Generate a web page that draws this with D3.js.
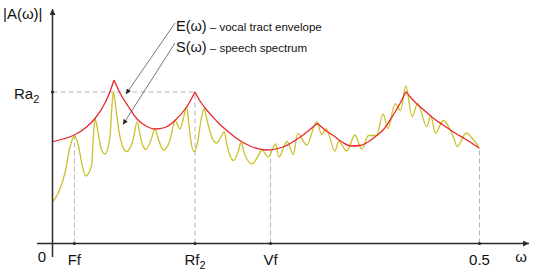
<!DOCTYPE html>
<html>
<head>
<meta charset="utf-8">
<script src="https://cdn.jsdelivr.net/npm/d3@7"></script>
<style>
  body { margin: 0; background: #fff; }
  svg { display: block; font-family: Arial, "Liberation Sans", sans-serif; }
</style>
</head>
<body>
<div class="chart"></div>
<script>
// speech spectrum S(w) (w normalised, 0.5 = Nyquist)
const spectrumW = [0, 0.0068, 0.0146, 0.0205, 0.0255, 0.0302, 0.0342, 0.0389, 0.0459, 0.0478,
  0.0498, 0.0529, 0.0568, 0.0615, 0.0673, 0.0693, 0.0712, 0.0740, 0.0779, 0.0829,
  0.0869, 0.0943, 0.0993, 0.1025, 0.1060, 0.1095, 0.1153, 0.1200, 0.1235, 0.1300,
  0.1376, 0.1411, 0.1434, 0.1464, 0.1493, 0.1528, 0.1571, 0.1598, 0.1628, 0.1657,
  0.1704, 0.1739, 0.1774, 0.1809, 0.1856, 0.1923, 0.1973, 0.2012, 0.2043, 0.2120,
  0.2172, 0.2207, 0.2254, 0.2336, 0.2395, 0.2453, 0.2527, 0.2611, 0.2652, 0.2746,
  0.2820, 0.2871, 0.2977, 0.3094, 0.3152, 0.3203, 0.3308, 0.3351, 0.3445, 0.3542,
  0.3621, 0.3700, 0.3794, 0.3870, 0.3929, 0.4011, 0.4075, 0.4138, 0.4210, 0.4276,
  0.4382, 0.4429, 0.4485, 0.4575, 0.4690, 0.4740, 0.4844, 0.4912, 0.4989];
const spectrumA = [20.75, 25.25, 35.25, 48.25, 53.75, 49.25, 40.25, 33.75, 39.25, 53.4,
  62.25, 56.75, 47.75, 44.75, 53.4, 66.75, 75.9, 68.4, 55.9, 47.75,
  45.9, 51.75, 60.9, 54.25, 48.75, 47.0, 51.75, 57.25, 52.75, 46.75,
  51.75, 58.25, 61.75, 59.25, 57.25, 61.75, 68.25, 59.25, 49.25, 45.9,
  51.75, 61.75, 67.25, 61.75, 54.25, 50.25, 53.25, 55.9, 49.25, 41.5,
  45.75, 50.25, 44.25, 39.75, 42.75, 46.75, 43.25, 49.75, 43.25, 51.0,
  44.5, 55.1, 49.25, 60.9, 54.5, 57.4, 46.15, 51.15, 46.25, 54.25,
  47.15, 54.0, 54.0, 64.85, 57.5, 69.9, 66.5, 78.75, 63.5, 69.9,
  58.4, 63.75, 55.15, 61.5, 53.75, 48.5, 55.25, 52.75, 48.5];

// vocal tract envelope E(w)
const envelopeW = [0, 0.0123, 0.0255, 0.0392, 0.0498, 0.0615, 0.0673, 0.0720, 0.0790, 0.0884,
  0.0990, 0.1095, 0.1200, 0.1317, 0.1434, 0.1571, 0.1669, 0.1727, 0.1786, 0.1868,
  0.1961, 0.2055, 0.2149, 0.2313, 0.2508, 0.2699, 0.2898, 0.3101, 0.3191, 0.3288,
  0.3390, 0.3495, 0.3601, 0.3695, 0.3788, 0.3882, 0.3976, 0.4069, 0.4137, 0.4210,
  0.4280, 0.4362, 0.4456, 0.4573, 0.4713, 0.4842, 0.5];
const envelopeA = [50.9, 52.25, 54.25, 58.0, 62.5, 70.25, 75.9, 81.75, 75.25, 68.75,
  62.25, 58.75, 57.25, 58.0, 61.5, 68.25, 75.75, 71.25, 67.75, 63.75,
  59.5, 56.0, 52.75, 48.75, 46.75, 48.25, 53.1, 60.1, 56.75, 54.0,
  50.75, 48.75, 49.0, 50.75, 53.75, 57.25, 63.25, 70.0, 75.9, 72.25,
  69.25, 66.25, 62.75, 59.25, 55.25, 52.0, 47.6];
const formantPeaks = [0.0720, 0.1669, 0.3101, 0.4137];

// x ticks and the height of their guide lines
const xTicks = [0.0256, 0.1669, 0.2553, 0.5];
const xTickNames = ['Ff', 'Rf', 'Vf', '0.5'];
const xTickSubs = ['', '2', '', ''];
const xGuideA = [53.75, 75.75, 46.75, 47.6];
const yTicks = [75.75];
const yTickNames = ['Ra'];
const yTickSubs = ['2'];

function app() {
  const WIDTH = 536;
  const HEIGHT = 277;
  const RED = '#e8282c';
  const YELLOW = '#cbc12a';
  const AXIS = '#2b2b2b';
  const GUIDE = '#b4b4b4';

  let x = d3.scaleLinear().domain([0, 0.5]).range([52.5, 479.5]);
  let y = d3.scaleLinear().domain([0, 100]).range([243.5, 43.5]);

  let svg = d3.select('.chart')
    .append('svg')
    .attr('width', WIDTH)
    .attr('height', HEIGHT);

  let defs = svg.append('defs');
  defs.append('marker')
    .attr('id', 'axisArrow')
    .attr('viewBox', '0 0 10 10')
    .attr('refX', 10).attr('refY', 5)
    .attr('markerWidth', 8).attr('markerHeight', 6)
    .attr('markerUnits', 'userSpaceOnUse')
    .attr('orient', 'auto')
    .append('path').attr('d', 'M0,0L10,5L0,10z').attr('fill', AXIS);
  defs.append('marker')
    .attr('id', 'noteArrow')
    .attr('viewBox', '0 0 10 10')
    .attr('refX', 10).attr('refY', 5)
    .attr('markerWidth', 6).attr('markerHeight', 5)
    .attr('markerUnits', 'userSpaceOnUse')
    .attr('orient', 'auto')
    .append('path').attr('d', 'M0,0L10,5L0,10z').attr('fill', '#222');

  // dashed guides
  let guides = svg.append('g')
    .attr('stroke', GUIDE)
    .attr('stroke-width', 1)
    .attr('stroke-dasharray', '5,3');
  guides.selectAll('line.v')
    .data(xTicks)
    .enter()
    .append('line')
    .attr('x1', (d) => x(d)).attr('x2', (d) => x(d))
    .attr('y1', y(0))
    .attr('y2', (d, i) => y(xGuideA[i]));
  guides.selectAll('line.h')
    .data(yTicks)
    .enter()
    .append('line')
    .attr('x1', x(0)).attr('x2', x(xTicks[1]))
    .attr('y1', (d) => y(d)).attr('y2', (d) => y(d));

  // spectrum
  let spectrum = spectrumW.map((w, i) => [w, spectrumA[i]]);
  let line = d3.line()
    .x((d) => x(d[0]))
    .y((d) => y(d[1]))
    .curve(d3.curveMonotoneX);

  svg.append('path')
    .attr('d', line(spectrum))
    .attr('fill', 'none')
    .attr('stroke', YELLOW)
    .attr('stroke-width', 1.3);

  // envelope, split at the formant cusps
  let segments = [[]];
  envelopeW.forEach((w, i) => {
    let p = [w, envelopeA[i]];
    segments[segments.length - 1].push(p);
    if (formantPeaks.indexOf(w) >= 0) segments.push([p]);
  });
  svg.append('path')
    .attr('d', segments.filter((s) => s.length > 1).map((s) => line(s)).join(''))
    .attr('fill', 'none')
    .attr('stroke', RED)
    .attr('stroke-width', 1.3);

  // axes
  svg.append('line')
    .attr('x1', 37).attr('x2', 529)
    .attr('y1', y(0)).attr('y2', y(0))
    .attr('stroke', AXIS).attr('stroke-width', 1.5)
    .attr('marker-end', 'url(#axisArrow)');
  svg.append('line')
    .attr('x1', x(0)).attr('x2', x(0))
    .attr('y1', 257).attr('y2', 9)
    .attr('stroke', AXIS).attr('stroke-width', 1.5)
    .attr('marker-end', 'url(#axisArrow)');

  svg.selectAll('circle.xt')
    .data(xTicks)
    .enter()
    .append('circle')
    .attr('cx', (d) => x(d)).attr('cy', y(0)).attr('r', 1.6)
    .attr('fill', AXIS);
  svg.selectAll('circle.yt')
    .data(yTicks)
    .enter()
    .append('circle')
    .attr('cx', x(0)).attr('cy', (d) => y(d)).attr('r', 1.6)
    .attr('fill', AXIS);

  // tick labels
  let xl = svg.selectAll('text.xl')
    .data(xTicks)
    .enter()
    .append('text')
    .attr('x', (d) => x(d))
    .attr('y', 265)
    .attr('text-anchor', 'middle')
    .attr('font-size', 15)
    .attr('fill', '#111');
  xl.append('tspan').text((d, i) => xTickNames[i]);
  xl.append('tspan')
    .attr('font-size', 11).attr('dy', 4)
    .text((d, i) => xTickSubs[i]);

  let yl = svg.selectAll('text.yl')
    .data(yTicks)
    .enter()
    .append('text')
    .attr('x', 14)
    .attr('y', (d) => y(d) + 7)
    .attr('font-size', 15)
    .attr('fill', '#111');
  yl.append('tspan').text((d, i) => yTickNames[i]);
  yl.append('tspan')
    .attr('font-size', 11).attr('dy', 4)
    .text((d, i) => yTickSubs[i]);

  svg.append('text')
    .attr('x', 42).attr('y', 262)
    .attr('text-anchor', 'middle')
    .attr('font-size', 15).attr('fill', '#111')
    .text('0');
  svg.append('text')
    .attr('x', 521).attr('y', 262)
    .attr('text-anchor', 'middle')
    .attr('font-size', 15).attr('fill', '#111')
    .text('\u03c9');
  svg.append('text')
    .attr('x', 3).attr('y', 19)
    .attr('font-size', 15).attr('fill', '#111')
    .text('|A(\u03c9)|');

  // legend notes with leader arrows
  let notes = [
    { big: 'E(\u03c9)', small: ' \u2013 vocal tract envelope', ty: 31, from: [175, 23], to: [126, 94] },
    { big: 'S(\u03c9)', small: ' \u2013 speech spectrum', ty: 52, from: [175, 43], to: [123, 124.5] }
  ];
  notes.forEach((n) => {
    svg.append('line')
      .attr('x1', n.from[0]).attr('y1', n.from[1])
      .attr('x2', n.to[0]).attr('y2', n.to[1])
      .attr('stroke', '#555').attr('stroke-width', 0.8)
      .attr('marker-end', 'url(#noteArrow)');
    let t = svg.append('text')
      .attr('x', 176).attr('y', n.ty)
      .attr('fill', '#111');
    t.append('tspan').attr('font-size', 14.5).text(n.big);
    t.append('tspan').attr('font-size', 11.5).text(n.small);
  });
}

app();
</script>
</body>
</html>
